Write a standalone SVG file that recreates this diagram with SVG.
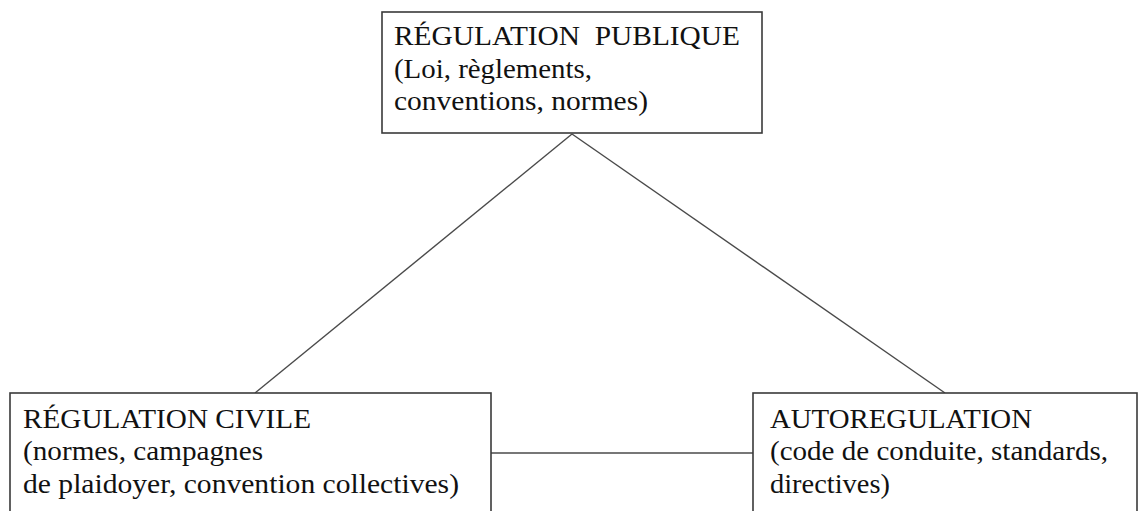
<svg xmlns="http://www.w3.org/2000/svg" width="1139" height="511" viewBox="0 0 1139 511">
<style>
.box{fill:#fff;stroke:#3a3a3a;stroke-width:1.6}
.t{font-family:"Liberation Serif","Times New Roman",serif;font-size:27px;fill:#111}
.c{stroke:#4a4a4a;stroke-width:1.4;fill:none}
</style>
<rect width="1139" height="511" fill="#fff"/>
<g id="connectors">
<line class="c" x1="572" y1="134" x2="255" y2="393"/>
<line class="c" x1="572" y1="134" x2="945" y2="393"/>
<line class="c" x1="491" y1="453" x2="753" y2="453"/>
</g>
<g id="node-publique">
<rect class="box" x="382" y="12" width="380" height="121"/>
<text class="t" x="394" y="45" textLength="346" lengthAdjust="spacingAndGlyphs">RÉGULATION&#160;&#160;PUBLIQUE</text>
<text class="t" x="394" y="78" textLength="198" lengthAdjust="spacingAndGlyphs">(Loi, règlements,</text>
<text class="t" x="394" y="110" textLength="254" lengthAdjust="spacingAndGlyphs">conventions, normes)</text>
</g>
<g id="node-civile">
<rect class="box" x="10" y="393" width="481" height="130"/>
<text class="t" x="23" y="428" textLength="288" lengthAdjust="spacingAndGlyphs">RÉGULATION CIVILE</text>
<text class="t" x="23" y="460" textLength="240" lengthAdjust="spacingAndGlyphs">(normes, campagnes</text>
<text class="t" x="23" y="493" textLength="436" lengthAdjust="spacingAndGlyphs">de plaidoyer, convention collectives)</text>
</g>
<g id="node-auto">
<rect class="box" x="753" y="393" width="384" height="130"/>
<text class="t" x="770" y="428" textLength="262" lengthAdjust="spacingAndGlyphs">AUTOREGULATION</text>
<text class="t" x="770" y="460" textLength="338" lengthAdjust="spacingAndGlyphs">(code de conduite, standards,</text>
<text class="t" x="770" y="493" textLength="120" lengthAdjust="spacingAndGlyphs">directives)</text>
</g>
</svg>
